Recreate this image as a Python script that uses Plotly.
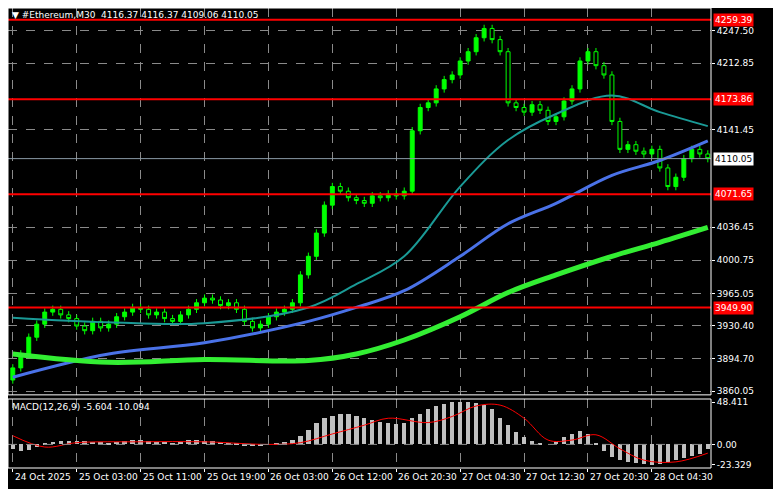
import plotly.graph_objects as go

# hourly-ish candles, index 0..87
closes = [3885, 3900, 3918, 3932, 3945, 3948, 3942, 3938,
          3930, 3925, 3935, 3928, 3932, 3940, 3945, 3950,
          3948, 3942, 3945, 3938, 3935, 3942, 3948, 3955,
          3960, 3958, 3952, 3955, 3948, 3935, 3928, 3932,
          3940, 3945, 3948, 3955, 3985, 4005, 4030, 4060,
          4080, 4075, 4068, 4065, 4062, 4070, 4068, 4072,
          4070, 4075, 4140, 4165, 4170, 4185, 4195, 4200,
          4215, 4225, 4240, 4250, 4238, 4225, 4170, 4165,
          4160, 4168, 4162, 4150, 4155, 4172, 4185, 4215,
          4225, 4210, 4200, 4150, 4120, 4125, 4118, 4115,
          4120, 4100, 4080, 4090, 4110, 4120, 4115, 4110.05]
first_open = 3872
wick = 4

ma_idx = [0, 12, 24, 37, 43, 49, 56, 62, 68, 75, 81, 87]
ma_teal = [3939, 3934, 3933, 3950, 3975, 4005, 4080, 4130, 4158, 4178, 4160, 4145]
ma_blue = [3875, 3900, 3912, 3935, 3950, 3968, 4005, 4040, 4062, 4092, 4108, 4129]
ma_green = [3900, 3891, 3894, 3893, 3900, 3915, 3940, 3966, 3985, 4005, 4020, 4036]

hist = [-5, -7, -6, -3, 1, 3, 4, 4,
        4, 4, 3, 3, 2, 3, 4, 5,
        5, 4, 3, 3, 2, 3, 5, 5,
        4, 4, 3, 2, 1, -1, -2, -1,
        0, 1, 3, 5, 10, 16, 24, 30,
        33, 35, 35, 33, 30, 28, 26, 24,
        23, 25, 30, 35, 40, 44, 46, 48,
        48, 48, 47, 45, 40, 30, 22, 14,
        8, 4, 2, 0, 3, 8, 12, 15,
        12, 2, -8, -14, -18, -20, -21, -22,
        -23, -22, -20, -18, -15, -13, -11, -5.6]
sig_idx = [0, 4, 8, 16, 24, 32, 36, 40, 44, 47, 52, 55, 58, 61, 64, 67, 70, 73, 76, 79, 83, 87]
sig_val = [10, -3, 2, 3, 3, 0, 2, 12, 22, 30, 25, 32, 44, 45, 30, 5, 5, 11, -5, -18, -20, -10]

levels = [4259.39, 4173.86, 4071.65, 3949.90]
price_ticks = [4247.50, 4212.85, 4141.45, 4036.45, 4000.75, 3965.05, 3930.40, 3894.70, 3860.05]
time_labels = ["24 Oct 2025", "25 Oct 03:00", "25 Oct 11:00", "25 Oct 19:00", "26 Oct 03:00",
               "26 Oct 12:00", "26 Oct 20:30", "27 Oct 04:30", "27 Oct 12:30", "27 Oct 20:30",
               "28 Oct 04:30", "28 Oct 12:30"]

idx = list(range(len(closes)))
opens = [first_open] + closes[:-1]
highs = [max(o, c) + wick for o, c in zip(opens, closes)]
lows = [min(o, c) - wick for o, c in zip(opens, closes)]

fig = go.Figure()
fig.add_trace(go.Candlestick(x=idx, open=opens, high=highs, low=lows, close=closes,
                             increasing=dict(line=dict(color="#00ff00", width=1), fillcolor="#00ff00"),
                             decreasing=dict(line=dict(color="#00ff00", width=1), fillcolor="#000000"),
                             whiskerwidth=0, yaxis="y"))
fig.add_trace(go.Scatter(x=ma_idx, y=ma_teal, mode="lines", line=dict(color="#1a9a96", width=2, shape="spline")))
fig.add_trace(go.Scatter(x=ma_idx, y=ma_blue, mode="lines", line=dict(color="#4a72e8", width=3, shape="spline")))
fig.add_trace(go.Scatter(x=ma_idx, y=ma_green, mode="lines", line=dict(color="#33ee33", width=5, shape="spline")))
fig.add_trace(go.Bar(x=idx, y=hist, marker=dict(color="#c0c0c0", line=dict(width=0)), width=0.55, yaxis="y2"))
fig.add_trace(go.Scatter(x=sig_idx, y=sig_val, mode="lines", line=dict(color="#ff0000", width=1, shape="spline"), yaxis="y2"))

grid = dict(showgrid=True, gridcolor="#8a8a8a", griddash="dash", gridwidth=1, zeroline=False)
tick_pos = list(range(0, 89, 8))
main_dom = [0.159, 1]
macd_dom = [0, 0.15]
fig.update_layout(
    width=781, height=489, paper_bgcolor="#000000", plot_bgcolor="#000000",
    margin=dict(l=0, r=78, t=0, b=29, autoexpand=False), showlegend=False, bargap=0,
    font=dict(family="DejaVu Sans", size=9, color="#ffffff"),
    xaxis=dict(range=[-0.6, 87.4], tickvals=tick_pos, showticklabels=False,
               rangeslider=dict(visible=False), ticks="outside", ticklen=3, tickcolor="#ffffff",
               anchor="y2", automargin=False, **grid),
    yaxis=dict(domain=main_dom, range=[3856, 4272], side="right", tickvals=price_ticks,
               tickformat=".2f", ticks="outside", ticklen=3, tickcolor="#ffffff", automargin=False, **grid),
    yaxis2=dict(domain=macd_dom, range=[-27, 52], side="right", tickvals=[48.411, 0, -23.329],
                ticktext=["48.411", "0.00", "-23.329"], ticks="outside", ticklen=3, tickcolor="#ffffff",
                showgrid=False, zeroline=False, automargin=False),
)
for p, t in zip(tick_pos, time_labels):
    fig.add_annotation(x=p, xref="x", y=-0.005, yref="paper", yanchor="top", xanchor="left",
                       text=t, showarrow=False, font=dict(size=9, color="#ffffff"))
fig.add_hline(y=0, line=dict(color="#8a8a8a", dash="dash", width=1), yref="y2")
for lv in levels:
    fig.add_hline(y=lv, line=dict(color="#ff0000", width=2))
    fig.add_annotation(x=1.003, xref="paper", y=lv, yref="y", text=f"{lv:.2f}", showarrow=False,
                       xanchor="left", bgcolor="#ff0000", font=dict(color="#ffffff", size=9), borderpad=1)
fig.add_hline(y=closes[-1], line=dict(color="#8a99a6", width=1))
fig.add_annotation(x=1.003, xref="paper", y=closes[-1], yref="y", text=f"{closes[-1]:.2f}", showarrow=False,
                   xanchor="left", bgcolor="#ffffff", font=dict(color="#000000", size=9), borderpad=1)
for d in (main_dom, macd_dom):
    fig.add_shape(type="rect", xref="paper", yref="paper", x0=0, x1=1, y0=d[0], y1=d[1],
                  line=dict(color="#ffffff", width=1))
fig.add_annotation(x=0.003, xref="paper", y=1, yref="paper", yanchor="top", xanchor="left", showarrow=False,
                   text="▼ #Ethereum,M30  4116.37 4116.37 4109.06 4110.05", font=dict(size=9, color="#ffffff"))
fig.add_annotation(x=0.003, xref="paper", y=0.147, yref="paper", yanchor="top", xanchor="left", showarrow=False,
                   text="MACD(12,26,9) -5.604 -10.094", font=dict(size=9, color="#ffffff"))
fig.write_html("out.html")
